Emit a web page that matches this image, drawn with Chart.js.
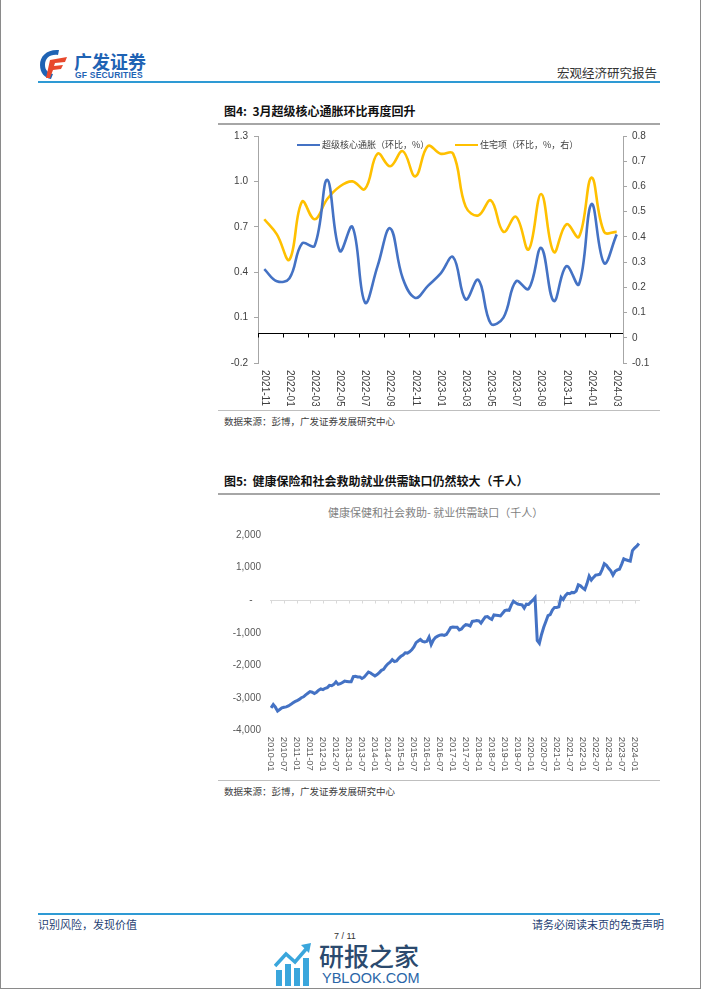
<!DOCTYPE html>
<html><head><meta charset="utf-8">
<script src="https://cdn.jsdelivr.net/npm/chart.js@4.4.1/dist/chart.umd.min.js"></script>
<style>
html,body{margin:0;padding:0;background:#fff;}
#page{position:relative;width:702px;height:991px;overflow:hidden;font-family:"Noto Sans CJK SC","Liberation Sans",sans-serif;}
#frame{position:absolute;left:0;top:-2px;width:699px;height:989px;border:1px solid #8a8a8a;}
.abs{position:absolute;white-space:nowrap;}
.hl{position:absolute;}
canvas{position:absolute;}
</style></head><body><div id="page">
<div id="frame"></div>

<!-- header -->
<svg class="abs" style="left:37px;top:47px" width="34" height="34" viewBox="0 0 34 34">
  <path d="M22 3 C10 2 3 9 3 18 C3 26 8 31 14 32 L16 27 C11 26 8 23 8 18 C8 11 13 7 21 8 Z" fill="#1f63b4"/>
  <path d="M13 13 L30 10 L28 15 L18 16 L17 19 L26 18 L24 22 L16 23 L13 31 L9 31 Z" fill="#e8482c"/>
</svg>
<div class="abs" style="left:74px;top:48px;font-size:18px;font-weight:700;color:#1f63b4;">广发证券</div>
<div class="abs" style="left:75px;top:70px;font-size:8.5px;font-weight:700;color:#1f63b4;font-family:'Liberation Sans',sans-serif;letter-spacing:0.2px;">GF SECURITIES</div>
<div class="abs" style="right:45px;top:63px;font-size:12.5px;color:#333;">宏观经济研究报告</div>
<div class="hl" style="left:38px;top:81px;width:622px;height:2px;background:#2e9ad4;"></div>

<!-- figure 4 -->
<div class="abs" style="left:224px;top:102px;font-size:12px;font-weight:700;color:#111;">图4:&nbsp;&nbsp;3月超级核心通胀环比再度回升</div>
<div class="hl" style="left:218px;top:123px;width:442px;height:1.5px;background:#a6a6a6;"></div>
<canvas id="c1" width="445" height="282" style="left:215px;top:124px;width:445px;height:282px;"></canvas>
<div class="hl" style="left:297px;top:143.5px;width:23px;height:2.6px;background:#4472c4;"></div>
<div class="abs" style="left:322px;top:138px;font-size:9px;color:#404040;">超级核心通胀（环比，%）</div>
<div class="hl" style="left:455px;top:143.5px;width:23px;height:2.6px;background:#ffc000;"></div>
<div class="abs" style="left:480px;top:138px;font-size:9px;color:#404040;">住宅项（环比，%，右）</div>
<div class="hl" style="left:218px;top:410px;width:442px;height:1px;background:#bfbfbf;"></div>
<div class="abs" style="left:224px;top:414px;font-size:9.5px;color:#404040;">数据来源：彭博，广发证券发展研究中心</div>

<!-- figure 5 -->
<div class="abs" style="left:224px;top:472px;font-size:12px;font-weight:700;color:#111;">图5:&nbsp;&nbsp;健康保险和社会救助就业供需缺口仍然较大（千人）</div>
<div class="hl" style="left:218px;top:493px;width:442px;height:1.5px;background:#a6a6a6;"></div>
<div class="abs" style="left:328px;top:504px;font-size:11px;color:#7f7f7f;">健康保健和社会救助- 就业供需缺口（千人）</div>
<canvas id="c2" width="445" height="255" style="left:215px;top:520px;width:445px;height:255px;"></canvas>
<div class="hl" style="left:218px;top:780px;width:442px;height:1px;background:#bfbfbf;"></div>
<div class="abs" style="left:224px;top:784px;font-size:9.5px;color:#404040;">数据来源：彭博，广发证券发展研究中心</div>

<!-- footer -->
<div class="hl" style="left:38px;top:913px;width:622px;height:1.5px;background:#2e9ad4;"></div>
<div class="abs" style="left:38px;top:916px;font-size:11px;color:#1f3f73;">识别风险，发现价值</div>
<div class="abs" style="right:38px;top:916px;font-size:11px;color:#1f3f73;">请务必阅读末页的免责声明</div>
<div class="abs" style="left:334px;top:931px;font-size:9px;color:#333;font-family:'Liberation Sans',sans-serif;">7 / 11</div>
<svg class="abs" style="left:274px;top:940px" width="40" height="48" viewBox="0 0 40 48">
  <rect x="2" y="30" width="6" height="16" fill="#3aa6dc"/>
  <rect x="11" y="24" width="6" height="22" fill="#3aa6dc"/>
  <rect x="20" y="28" width="6" height="18" fill="#3aa6dc"/>
  <rect x="29" y="18" width="6" height="28" fill="#3aa6dc"/>
  <path d="M1 26 L12 14 L21 22 L33 8" stroke="#3aa6dc" stroke-width="3.5" fill="none"/>
  <path d="M27 5 L37 3 L35 13 Z" fill="#3aa6dc"/>
</svg>
<div class="abs" style="left:319px;top:937px;font-size:25px;color:#2b4a6e;font-weight:500;">研报之家</div>
<div class="abs" style="left:322px;top:970px;font-size:14.5px;color:#2a66a8;font-family:'Liberation Sans',sans-serif;">YBLOOK.COM</div>
</div>

<script>
// ---------- Figure 4 data ----------
const months1 = ['2021-11','2021-12','2022-01','2022-02','2022-03','2022-04','2022-05','2022-06','2022-07','2022-08','2022-09','2022-10','2022-11','2022-12','2023-01','2023-02','2023-03','2023-04','2023-05','2023-06','2023-07','2023-08','2023-09','2023-10','2023-11','2023-12','2024-01','2024-02','2024-03'];
const supercore = [0.42,0.34,0.36,0.59,0.575,1.01,0.54,0.70,0.20,0.44,0.69,0.36,0.23,0.31,0.39,0.50,0.22,0.35,0.06,0.10,0.34,0.29,0.56,0.21,0.44,0.32,0.85,0.46,0.65];
const shelter = [0.47,0.41,0.31,0.54,0.47,0.55,0.60,0.62,0.59,0.73,0.68,0.74,0.64,0.76,0.73,0.73,0.52,0.485,0.545,0.42,0.48,0.35,0.57,0.34,0.45,0.40,0.635,0.42,0.42];
const leftTicks = {min:-0.2, max:1.3, step:0.3};
const rightTicks = {min:-0.1, max:0.8, step:0.1};

// ---------- Figure 5 data ----------
const startYear2 = 2010, startMonth2 = 1;
const gap = [
-3300,-3200,-3280,-3400,-3350,-3300,-3280,-3270,-3240,-3200,
-3150,-3110,-3080,-3040,-2990,-2960,-2900,-2850,-2800,-2820,
-2860,-2820,-2760,-2720,-2740,-2700,-2680,-2610,-2620,-2580,
-2500,-2580,-2560,-2520,-2480,-2490,-2500,-2500,-2340,-2330,
-2350,-2350,-2400,-2360,-2280,-2200,-2230,-2280,-2320,-2280,
-2220,-2150,-2120,-2020,-1950,-1900,-1820,-1880,-1860,-1780,
-1720,-1680,-1610,-1620,-1580,-1520,-1430,-1300,-1250,-1200,
-1260,-1280,-1260,-1130,-1360,-1220,-1140,-1100,-1070,-1060,
-1080,-1050,-950,-840,-820,-830,-830,-910,-880,-800,
-750,-760,-790,-650,-640,-620,-630,-700,-600,-510,
-500,-550,-590,-450,-460,-470,-480,-400,-320,-300,
-310,-150,-30,-80,-120,-130,-140,-240,-120,-130,
-60,0,80,-1230,-1320,-1050,-830,-650,-470,-440,
-300,-220,-220,-200,90,20,140,210,200,240,
230,280,470,440,380,330,510,740,620,700,
770,780,800,940,1120,1070,980,900,770,890,
930,950,1100,1270,1240,1220,1200,1520,1600,1660,
1740];
const months2 = [];
for (let k = 0; k < gap.length; k++) {
  const y = startYear2 + Math.floor((startMonth2 - 1 + k) / 12);
  const m = (startMonth2 - 1 + k) % 12 + 1;
  months2.push(y + '-' + String(m).padStart(2, '0'));
}
const gapTicks = {min:-4000, max:2000, step:1000};

Chart.defaults.font.family = '"Liberation Sans", Arial, sans-serif';
Chart.defaults.animation = false;

// x labels drawn rotated clockwise (reading top to bottom), as in the reference
const rotLabels = {
  id: 'rotLabels',
  afterDraw(chart, args, opts) {
    const sc = chart.scales.x, ctx = chart.ctx;
    ctx.save();
    ctx.font = opts.font; ctx.fillStyle = opts.color;
    ctx.textAlign = 'left'; ctx.textBaseline = 'middle';
    sc.ticks.forEach((t, i) => {
      if (!t.label) return;
      const x = sc.getPixelForTick(i);
      ctx.save();
      ctx.translate(x, chart.chartArea.bottom + opts.pad);
      ctx.rotate(Math.PI / 2);
      ctx.fillText(t.label, 0, 0);
      ctx.restore();
    });
    ctx.restore();
  }
};
const zeroAxis = {
  id: 'zeroAxis',
  beforeDatasetsDraw(chart, args, opts) {
    const xs = chart.scales.x, ys = chart.scales.y, ctx = chart.ctx, a = chart.chartArea;
    const y0 = Math.round(ys.getPixelForValue(0)) + 0.5;
    ctx.save();
    ctx.strokeStyle = opts.color; ctx.lineWidth = 1;
    ctx.beginPath();
    if (opts.line) { ctx.moveTo(a.left, y0); ctx.lineTo(a.right, y0); }
    const step = xs.getPixelForValue(1) - xs.getPixelForValue(0);
    for (let i = 0; i < chart.data.labels.length; i += opts.every) {
      const x = Math.round(xs.getPixelForValue(i) - (opts.half ? step / 2 : 0)) + 0.5;
      ctx.moveTo(x, y0); ctx.lineTo(x, y0 + opts.len);
    }
    ctx.stroke();
    ctx.restore();
  }
};

new Chart(document.getElementById('c1'), {
  type: 'line',
  data: {
    labels: months1,
    datasets: [
      {label: '超级核心通胀（环比，%）', data: supercore, yAxisID: 'y', borderColor: '#4472c4', borderWidth: 2.6, pointRadius: 0, tension: 0.4, fill: false},
      {label: '住宅项（环比，%，右）', data: shelter, yAxisID: 'y1', borderColor: '#ffc000', borderWidth: 2.6, pointRadius: 0, tension: 0.4, fill: false}
    ]
  },
  options: {
    responsive: false,
    layout: {padding: {top: 7, left: 0, right: 0, bottom: 0}},
    plugins: {
      legend: {display: false}, tooltip: {enabled: false},
      rotLabels: {font: '10px "Liberation Sans"', color: '#404040', pad: 7},
      zeroAxis: {color: '#000', line: true, every: 2, half: true, len: 4}
    },
    scales: {
      x: {
        type: 'category', offset: true,
        grid: {display: false}, border: {display: false},
        ticks: {autoSkip: false, maxRotation: 90, minRotation: 90, color: 'rgba(0,0,0,0)', font: {size: 10},
          callback: (v, i) => (i % 2 === 0 ? months1[i] : '')},
        afterFit: s => { s.height = 43; }
      },
      y: {
        position: 'left', min: leftTicks.min, max: leftTicks.max,
        ticks: {stepSize: leftTicks.step, color: '#404040', font: {size: 10}, padding: 6,
          callback: v => (Math.round(v * 10) / 10).toFixed(1)},
        grid: {drawOnChartArea: false, drawTicks: true, tickLength: 4, color: '#a6a6a6'},
        border: {display: true, color: '#a6a6a6'},
        afterFit: s => { s.width = 43; }
      },
      y1: {
        position: 'right', min: rightTicks.min, max: rightTicks.max,
        ticks: {stepSize: rightTicks.step, color: '#404040', font: {size: 10}, padding: 5,
          callback: v => { const r = Math.round(v * 10) / 10; return r === 0 ? '0' : r.toFixed(1); }},
        grid: {drawOnChartArea: false, drawTicks: true, tickLength: 4, color: '#a6a6a6'},
        border: {display: true, color: '#a6a6a6'},
        afterFit: s => { s.width = 37; }
      }
    }
  },
  plugins: [rotLabels, zeroAxis]
});

new Chart(document.getElementById('c2'), {
  type: 'line',
  data: {
    labels: months2,
    datasets: [
      {label: '健康保健和社会救助- 就业供需缺口（千人）', data: gap, borderColor: '#4472c4', borderWidth: 3, pointRadius: 0, tension: 0, fill: false}
    ]
  },
  options: {
    responsive: false,
    layout: {padding: {top: 12.7, left: 0, right: 20, bottom: 0}},
    plugins: {
      legend: {display: false}, tooltip: {enabled: false},
      rotLabels: {font: '9.5px "Liberation Sans"', color: '#595959', pad: 6},
      zeroAxis: {color: '#d9d9d9', line: false, every: 6, half: false, len: 3}
    },
    scales: {
      x: {
        type: 'category', offset: true,
        grid: {display: false}, border: {display: false},
        ticks: {autoSkip: false, maxRotation: 90, minRotation: 90, color: 'rgba(0,0,0,0)', font: {size: 9.5},
          callback: (v, i) => (i % 6 === 0 ? months2[i] : '')},
        afterFit: s => { s.height = 44.3; }
      },
      y: {
        min: gapTicks.min, max: gapTicks.max,
        ticks: {stepSize: gapTicks.step, color: '#595959', font: {size: 10}, padding: 9,
          callback: v => (v === 0 ? '-   ' : v.toLocaleString('en-US'))},
        grid: {drawTicks: false, lineWidth: 1, color: c => (c.tick && c.tick.value === 0 ? '#d9d9d9' : 'rgba(0,0,0,0)')},
        border: {display: false},
        afterFit: s => { s.width = 55; }
      }
    }
  },
  plugins: [rotLabels, zeroAxis]
});
</script>
</body></html>
